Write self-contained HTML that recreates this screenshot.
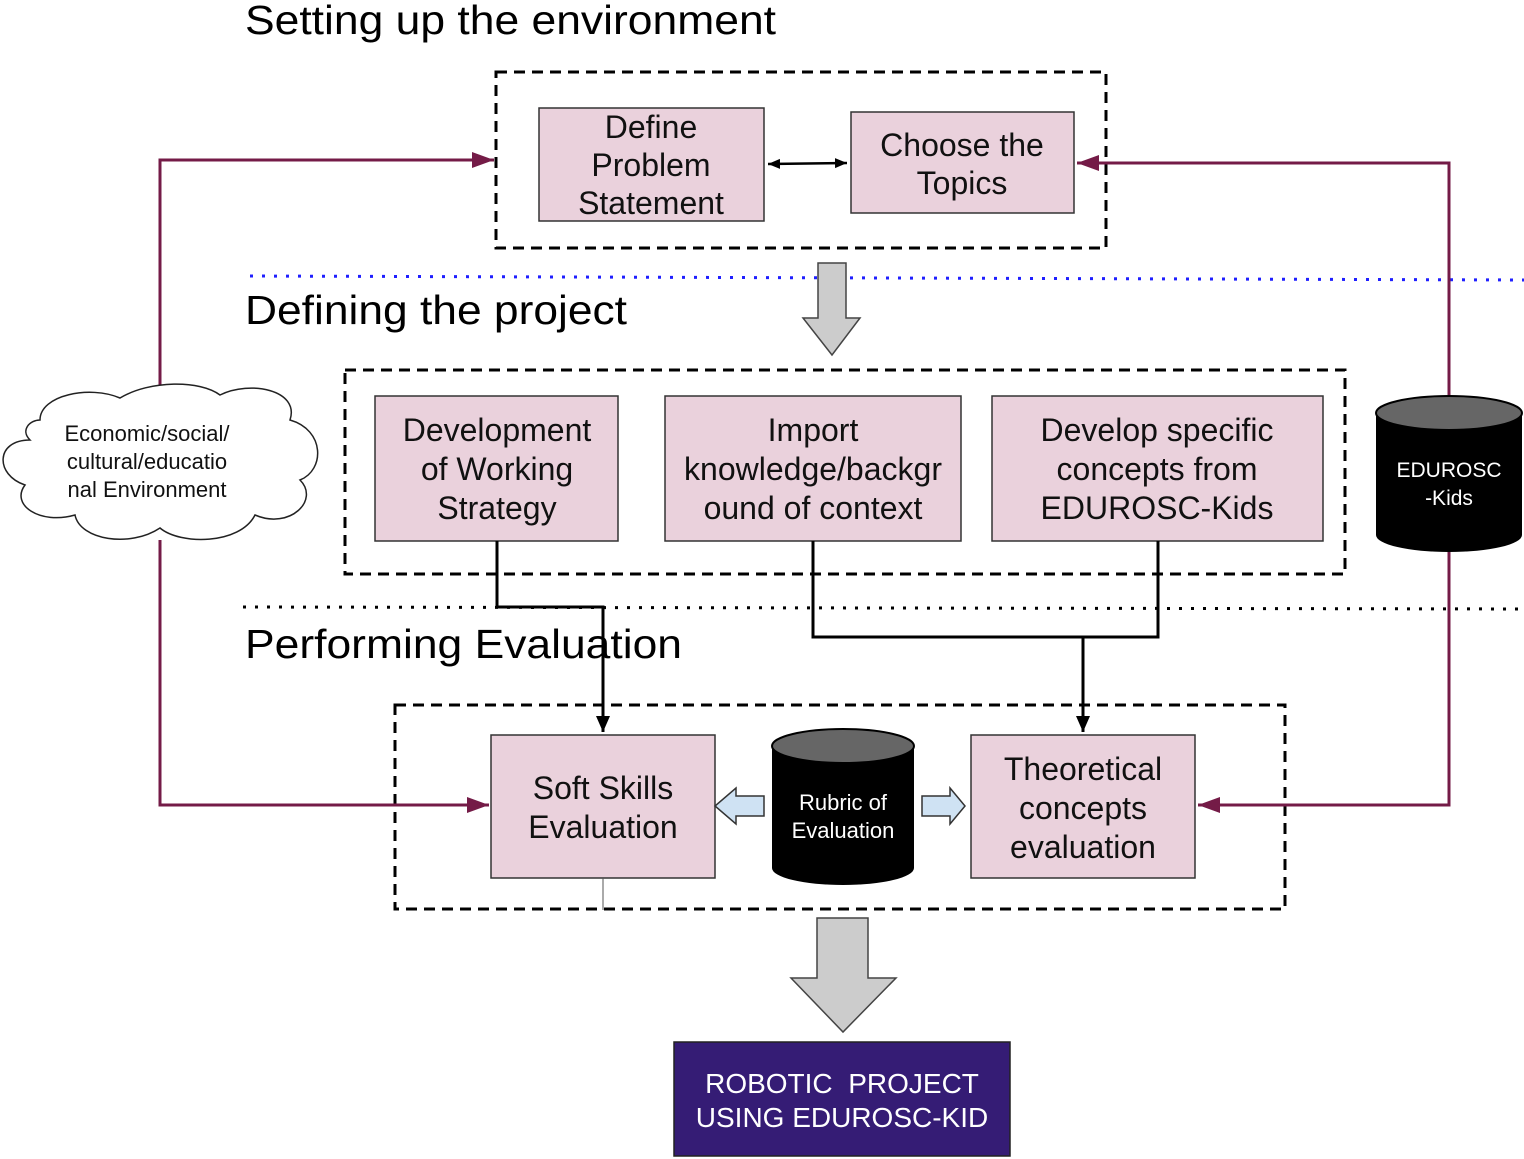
<!DOCTYPE html>
<html><head><meta charset="utf-8"><style>html,body{margin:0;padding:0;background:#fff}svg{display:block}</style></head><body>
<svg width="1524" height="1159" viewBox="0 0 1524 1159" xmlns="http://www.w3.org/2000/svg" font-family="Liberation Sans, sans-serif">
<defs>
<marker id="mb" markerWidth="24" markerHeight="20" refX="22" refY="10" orient="auto" markerUnits="userSpaceOnUse"><path d="M0,2 L22,10 L0,18 z" fill="#741B47"/></marker>
<marker id="kb" markerWidth="20" markerHeight="20" refX="18" refY="10" orient="auto" markerUnits="userSpaceOnUse"><path d="M2,3 L18,10 L2,17 z" fill="#000"/></marker>
<marker id="ks" markerWidth="14" markerHeight="14" refX="12" refY="7" orient="auto-start-reverse" markerUnits="userSpaceOnUse"><path d="M0,2 L12,7 L0,12 z" fill="#000"/></marker>
</defs>
<text x="245" y="34" font-size="41" textLength="531" lengthAdjust="spacingAndGlyphs">Setting up the environment</text>
<text x="245" y="324" font-size="41" textLength="382" lengthAdjust="spacingAndGlyphs">Defining the project</text>
<text x="245" y="658" font-size="41" textLength="437" lengthAdjust="spacingAndGlyphs">Performing Evaluation</text>
<line x1="250" y1="276" x2="1524" y2="280" stroke="#1f1fff" stroke-width="3" stroke-dasharray="3,9"/>
<line x1="243" y1="607" x2="1524" y2="609" stroke="#000" stroke-width="3" stroke-dasharray="3,9"/>
<rect x="496" y="72" width="610" height="176" fill="none" stroke="#000" stroke-width="3" stroke-dasharray="11,7"/>
<rect x="345" y="370" width="1000" height="204" fill="none" stroke="#000" stroke-width="3" stroke-dasharray="11,7"/>
<rect x="395" y="705" width="890" height="204" fill="none" stroke="#000" stroke-width="3" stroke-dasharray="11,7"/>
<g fill="#EAD1DC" stroke="#333" stroke-width="1.5">
<rect x="539" y="108" width="225" height="113"/>
<rect x="851" y="112" width="223" height="101"/>
<rect x="375" y="396" width="243" height="145"/>
<rect x="665" y="396" width="296" height="145"/>
<rect x="992" y="396" width="331" height="145"/>
<rect x="491" y="735" width="224" height="143"/>
<rect x="971" y="735" width="224" height="143"/>
</g>
<g font-size="32" text-anchor="middle" fill="#111">
<text x="651" y="138">Define</text><text x="651" y="176">Problem</text><text x="651" y="214">Statement</text>
<text x="962" y="156">Choose the</text><text x="962" y="194">Topics</text>
<text x="497" y="441">Development</text><text x="497" y="480">of Working</text><text x="497" y="519">Strategy</text>
<text x="813" y="441">Import</text><text x="813" y="480">knowledge/backgr</text><text x="813" y="519">ound of context</text>
<text x="1157" y="441">Develop specific</text><text x="1157" y="480">concepts from</text><text x="1157" y="519">EDUROSC-Kids</text>
<text x="603" y="799">Soft Skills</text><text x="603" y="838">Evaluation</text>
<text x="1083" y="780">Theoretical</text><text x="1083" y="819">concepts</text><text x="1083" y="858">evaluation</text>
</g>
<line x1="768" y1="164" x2="847" y2="163" stroke="#000" stroke-width="2.5" marker-start="url(#ks)" marker-end="url(#ks)"/>
<path d="M818,263 H846 V318 H860 L832,355 L803,318 H818 Z" fill="#ccc" stroke="#444" stroke-width="1.5"/>
<path d="M817,918 H868 V978 H896 L843,1032 L791,978 H817 Z" fill="#ccc" stroke="#444" stroke-width="1.5"/>
<g fill="none" stroke="#000" stroke-width="3">
<path d="M497,541 V607 H603 V732" marker-end="url(#kb)"/>
<path d="M813,541 V637 H1158 V541"/>
<path d="M1083,637 V732" marker-end="url(#kb)"/>
</g>
<line x1="603" y1="878" x2="603" y2="910" stroke="#555" stroke-width="1"/>
<g fill="none" stroke="#741B47" stroke-width="3">
<path d="M160,400 V160 H494" marker-end="url(#mb)"/>
<path d="M160,540 V805 H489" marker-end="url(#mb)"/>
<path d="M1449,395 V163 H1077" marker-end="url(#mb)"/>
<path d="M1449,550 V805 H1198" marker-end="url(#mb)"/>
</g>
<path d="M40,420 C40,395 90,385 120,398 C150,380 200,380 220,395 C250,380 300,390 290,420 C325,430 325,470 300,480 C320,500 290,530 255,515 C240,545 180,545 160,528 C130,548 80,540 75,515 C40,525 10,505 25,485 C-5,475 -5,440 30,440 C20,430 30,420 40,420 Z" fill="#fff" stroke="#222" stroke-width="1.5"/>
<g font-size="22" text-anchor="middle" fill="#111">
<text x="147" y="441">Economic/social/</text><text x="147" y="469">cultural/educatio</text><text x="147" y="497">nal Environment</text>
</g>
<g>
<path d="M1376,413 V535 A73,17 0 0 0 1522,535 V413 Z" fill="#000"/>
<ellipse cx="1449" cy="413" rx="73" ry="17" fill="#666" stroke="#000" stroke-width="2"/>
<text x="1449" y="477" font-size="21" fill="#fff" text-anchor="middle">EDUROSC</text>
<text x="1449" y="505" font-size="21" fill="#fff" text-anchor="middle">-Kids</text>
</g>
<g>
<path d="M772,746 V868 A71,17 0 0 0 914,868 V746 Z" fill="#000"/>
<ellipse cx="843" cy="746" rx="71" ry="17" fill="#666" stroke="#000" stroke-width="2"/>
<text x="843" y="810" font-size="22" fill="#fff" text-anchor="middle">Rubric of</text>
<text x="843" y="838" font-size="22" fill="#fff" text-anchor="middle">Evaluation</text>
</g>
<path d="M764,796 H736 V788 L715,806 L736,824 V816 H764 Z" fill="#cfe2f3" stroke="#333" stroke-width="1.5"/>
<path d="M922,796 H950 V788 L965,806 L950,824 V816 H922 Z" fill="#cfe2f3" stroke="#333" stroke-width="1.5"/>
<rect x="674" y="1042" width="336" height="114" fill="#351C75" stroke="#222" stroke-width="1.5"/>
<text x="842" y="1093" font-size="28" fill="#fff" text-anchor="middle" xml:space="preserve">ROBOTIC  PROJECT</text>
<text x="842" y="1127" font-size="28" fill="#fff" text-anchor="middle">USING EDUROSC-KID</text>
</svg>
</body></html>
